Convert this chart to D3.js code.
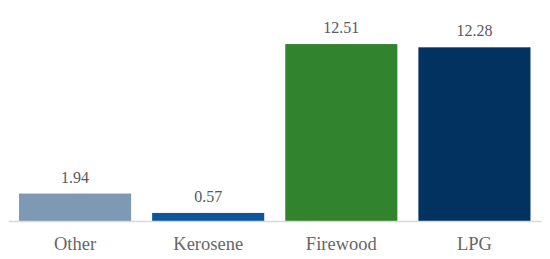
<!DOCTYPE html>
<html>
<head>
<meta charset="utf-8">
<script src="https://cdn.jsdelivr.net/npm/d3@7"></script>
<style>
  body { margin: 0; background: #fff; }
  svg { display: block; }
  text { font-family: "Liberation Serif", "Times New Roman", serif; }
</style>
</head>
<body>
<svg id="chart" width="550" height="259"></svg>
<script>
// fuel categories and their values
var categories = ["Other", "Kerosene", "Firewood", "LPG"];
var values = [1.94, 0.57, 12.51, 12.28];
var colors = ["#7d99b4", "#0c559f", "#32832d", "#02325f"];

var width = 550, height = 259;
var margin = { top: 23, right: 9, bottom: 38, left: 8.5 };

var svg = d3.select("#chart");

var x = d3.scaleBand()
    .domain(categories)
    .range([margin.left, width - margin.right])
    .paddingInner(0.158)
    .paddingOuter(0.079);

var y = d3.scaleLinear()
    .domain([0, 14])
    .range([height - margin.bottom, margin.top]);

// bars
svg.selectAll("rect.bar")
    .data(values)
    .enter()
    .append("rect")
    .attr("class", "bar")
    .attr("x", function (d, i) { return x(categories[i]); })
    .attr("y", function (d) { return y(d); })
    .attr("width", x.bandwidth())
    .attr("height", function (d) { return y(0) - y(d); })
    .attr("fill", function (d, i) { return colors[i]; });

// value labels
svg.selectAll("text.val")
    .data(values)
    .enter()
    .append("text")
    .attr("class", "val")
    .attr("x", function (d, i) { return x(categories[i]) + x.bandwidth() / 2; })
    .attr("y", function (d) { return y(d) - 11; })
    .attr("text-anchor", "middle")
    .attr("font-size", 16)
    .attr("fill", "#595959")
    .text(function (d) { return d.toFixed(2); });

// x axis
var xAxis = svg.append("g")
    .attr("transform", "translate(0," + y(0) + ")")
    .call(d3.axisBottom(x).tickSize(0).tickPadding(16))
    .attr("font-family", null);

xAxis.select(".domain")
    .attr("stroke", "#d9d9d9")
    .attr("stroke-width", 1.5);

xAxis.selectAll("text")
    .attr("font-size", 18.5)
    .attr("fill", "#666666");
</script>
</body>
</html>
